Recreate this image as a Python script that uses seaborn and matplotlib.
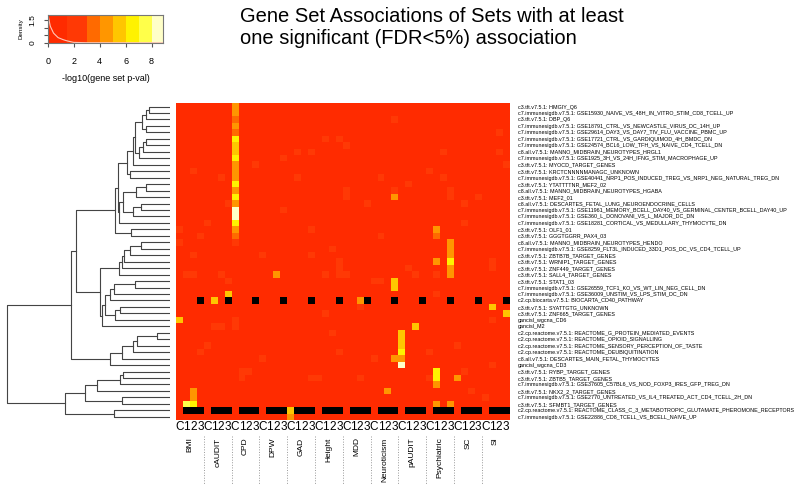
import matplotlib
matplotlib.use("Agg")
import matplotlib.pyplot as plt
import matplotlib.transforms as mtransforms
from matplotlib.colors import ListedColormap, BoundaryNorm
import numpy as np
import pandas as pd
import seaborn as sns

plt.rcParams["font.family"] = ["Liberation Sans", "DejaVu Sans"]

traits = ["BMI", "cAUDIT", "CPD", "DPW", "GAD", "Height", "MDD",
          "Neuroticism", "pAUDIT", "Psychiatric", "SC", "SI"]
subcols = ["C", "1", "2", "3"]

gene_sets = [
    "c3.tft.v7.5.1: HMGIY_Q6",
    "c7.immunesigdb.v7.5.1: GSE15930_NAIVE_VS_48H_IN_VITRO_STIM_CD8_TCELL_UP",
    "c3.tft.v7.5.1: DBP_Q6",
    "c7.immunesigdb.v7.5.1: GSE18791_CTRL_VS_NEWCASTLE_VIRUS_DC_14H_UP",
    "c7.immunesigdb.v7.5.1: GSE29614_DAY3_VS_DAY7_TIV_FLU_VACCINE_PBMC_UP",
    "c7.immunesigdb.v7.5.1: GSE17721_CTRL_VS_GARDIQUIMOD_4H_BMDC_DN",
    "c7.immunesigdb.v7.5.1: GSE24574_BCL6_LOW_TFH_VS_NAIVE_CD4_TCELL_DN",
    "c8.all.v7.5.1: MANNO_MIDBRAIN_NEUROTYPES_HRGL1",
    "c7.immunesigdb.v7.5.1: GSE1925_3H_VS_24H_IFNG_STIM_MACROPHAGE_UP",
    "c3.tft.v7.5.1: MYOCD_TARGET_GENES",
    "c3.tft.v7.5.1: KRCTCNNNNMANAGC_UNKNOWN",
    "c7.immunesigdb.v7.5.1: GSE40441_NRP1_POS_INDUCED_TREG_VS_NRP1_NEG_NATURAL_TREG_DN",
    "c3.tft.v7.5.1: YTATTTTNR_MEF2_02",
    "c8.all.v7.5.1: MANNO_MIDBRAIN_NEUROTYPES_HGABA",
    "c3.tft.v7.5.1: MEF2_01",
    "c8.all.v7.5.1: DESCARTES_FETAL_LUNG_NEUROENDOCRINE_CELLS",
    "c7.immunesigdb.v7.5.1: GSE11961_MEMORY_BCELL_DAY40_VS_GERMINAL_CENTER_BCELL_DAY40_UP",
    "c7.immunesigdb.v7.5.1: GSE360_L_DONOVANI_VS_L_MAJOR_DC_DN",
    "c7.immunesigdb.v7.5.1: GSE18281_CORTICAL_VS_MEDULLARY_THYMOCYTE_DN",
    "c3.tft.v7.5.1: OLF1_01",
    "c3.tft.v7.5.1: GGGTGGRR_PAX4_03",
    "c8.all.v7.5.1: MANNO_MIDBRAIN_NEUROTYPES_HENDO",
    "c7.immunesigdb.v7.5.1: GSE8259_FLT3L_INDUCED_33D1_POS_DC_VS_CD4_TCELL_UP",
    "c3.tft.v7.5.1: ZBTB7B_TARGET_GENES",
    "c3.tft.v7.5.1: WRNIP1_TARGET_GENES",
    "c3.tft.v7.5.1: ZNF449_TARGET_GENES",
    "c3.tft.v7.5.1: SALL4_TARGET_GENES",
    "c3.tft.v7.5.1: STAT1_03",
    "c7.immunesigdb.v7.5.1: GSE26559_TCF1_KO_VS_WT_LIN_NEG_CELL_DN",
    "c7.immunesigdb.v7.5.1: GSE36009_UNSTIM_VS_LPS_STIM_DC_DN",
    "c2.cp.biocarta.v7.5.1: BIOCARTA_CD40_PATHWAY",
    "c3.tft.v7.5.1: SYATTGTG_UNKNOWN",
    "c3.tft.v7.5.1: ZNF665_TARGET_GENES",
    "gancisl_wgcna_CD6",
    "gancisl_M2",
    "c2.cp.reactome.v7.5.1: REACTOME_G_PROTEIN_MEDIATED_EVENTS",
    "c2.cp.reactome.v7.5.1: REACTOME_OPIOID_SIGNALLING",
    "c2.cp.reactome.v7.5.1: REACTOME_SENSORY_PERCEPTION_OF_TASTE",
    "c2.cp.reactome.v7.5.1: REACTOME_DEUBIQUITINATION",
    "c8.all.v7.5.1: DESCARTES_MAIN_FETAL_THYMOCYTES",
    "gancisl_wgcna_CD3",
    "c3.tft.v7.5.1: RYBP_TARGET_GENES",
    "c3.tft.v7.5.1: ZBTB5_TARGET_GENES",
    "c7.immunesigdb.v7.5.1: GSE37605_C57BL6_VS_NOD_FOXP3_IRES_GFP_TREG_DN",
    "c3.tft.v7.5.1: NKX2_2_TARGET_GENES",
    "c7.immunesigdb.v7.5.1: GSE2770_UNTREATED_VS_IL4_TREATED_ACT_CD4_TCELL_2H_DN",
    "c3.tft.v7.5.1: SFMBT1_TARGET_GENES",
    "c2.cp.reactome.v7.5.1: REACTOME_CLASS_C_3_METABOTROPIC_GLUTAMATE_PHEROMONE_RECEPTORS",
    "c7.immunesigdb.v7.5.1: GSE22886_CD8_TCELL_VS_BCELL_NAIVE_UP",
]

# -log10(p) levels: most cells sit in the lowest bin
background_level = 0.5
faint_level = 2.0

# CPD / C column, rows 0..21
cpd_c_values = [4.5, 4.5, 3.5, 4.5, 3.5, 6.5, 5.5, 5.5, 6.5, 4.5, 4.5,
                4.5, 6.5, 4.5, 6.5, 4.5, 8.5, 8.5, 6.5, 4.5, 3.5, 2.0]

# (row, column index, value) for the other strong cells
strong_cells = [
    (14, 31, 4.0), (19, 37, 4.5), (20, 37, 3.5), (24, 37, 4.5),
    (21, 39, 4.5), (22, 39, 4.5), (23, 39, 4.5), (24, 39, 6.5), (25, 39, 4.5), (26, 39, 4.5),
    (26, 14, 4.5), (27, 31, 5.5), (28, 31, 5.5), (29, 7, 5.5), (30, 5, 5.8),
    (30, 26, 4.5), (31, 45, 5.5), (32, 47, 5.5), (33, 0, 5.5), (34, 34, 5.5),
    (35, 32, 5.5), (36, 32, 5.5), (37, 32, 5.5), (38, 32, 6.5), (39, 32, 4.5),
    (40, 32, 8.5), (39, 31, 4.5), (41, 37, 6.5), (42, 37, 6.8), (43, 37, 4.5),
    (42, 40, 4.0), (44, 30, 4.5), (46, 37, 4.5), (46, 39, 4.5),
    (44, 2, 4.5), (45, 2, 4.5), (46, 1, 7.5), (46, 2, 6.5),
    (47, 16, 5.5), (48, 16, 4.5),
]

# slightly lighter cells (second bin)
faint_cells = [
    (5, 21), (5, 23), (7, 17), (7, 19), (6, 24), (8, 15), (9, 11), (10, 2), (11, 6),
    (11, 17), (15, 7), (18, 4), (19, 0), (20, 3), (16, 15), (19, 19), (13, 24),
    (21, 0), (22, 22), (23, 2), (23, 12), (23, 19), (24, 23), (25, 23), (26, 1),
    (26, 2), (26, 6), (26, 24), (2, 31), (4, 46), (7, 38), (7, 46), (9, 47),
    (10, 36), (11, 29), (12, 33), (11, 38), (13, 31), (13, 39), (14, 39), (14, 24),
    (15, 27), (15, 41), (14, 43), (18, 41), (20, 29), (26, 37), (24, 45), (25, 45),
    (25, 33), (26, 21), (26, 23), (27, 7), (38, 3), (37, 4), (33, 8), (34, 8),
    (34, 5), (34, 6), (41, 9), (42, 9), (41, 10), (39, 12), (42, 19), (42, 20),
    (32, 21), (35, 22), (38, 23), (27, 28), (27, 29), (31, 26), (26, 34), (29, 37),
    (37, 40), (41, 41), (44, 42), (45, 44), (40, 45), (33, 45), (38, 36), (39, 28),
    (42, 26), (42, 36),
]

# missing results (drawn black), per row: which sub-columns of every trait
missing_subcols = {30: ["3"], 47: ["1", "2", "3"]}

# color key
key_bounds = [0, 1.5, 3, 4, 5, 6, 7, 8, 8.9]
key_colors = ["#FF2B00", "#FF3905", "#FF6A00", "#FF9600", "#FFC600",
              "#FFF200", "#FFFF4A", "#FFFFC8"]
density_x = [0, 0.05, 0.2, 0.45, 0.8, 1.2, 1.5, 2.0, 3.0, 8.9]
density_y = [1.95, 1.75, 1.1, 0.64, 0.34, 0.2, 0.12, 0.02, 0.0, 0.0]

# row dendrogram: (node, left, right, merge height)
merges = [
    ("a", 0, 1, 1.28), ("b", "a", 2, 1.48), ("c", 3, 4, 1.48), ("d", "b", "c", 1.69),
    ("e", 5, 6, 1.48), ("f", "e", 7, 1.67), ("g", "f", 8, 1.87), ("h", "d", "g", 2.13),
    ("i", "h", 9, 2.28), ("j", 10, 11, 2.44), ("k", "i", "j", 2.64),
    ("l", 12, 13, 1.48), ("m", "l", 14, 2.09), ("n", 15, 16, 1.79), ("o", "n", 17, 2.24),
    ("p", "m", "o", 2.91), ("r", "p", 18, 3.11), ("s", "k", "r", 3.21),
    ("q", 19, 20, 2.38), ("t", "s", "q", 3.35),
    ("u1", 21, 22, 1.79), ("u2", "u1", 23, 2.44), ("u3", "u2", 24, 2.80),
    ("u4", "u3", 25, 2.95), ("u5", "u4", 26, 3.15),
    ("v1", 27, 28, 2.17), ("v2", "v1", 29, 3.46), ("v3", "v2", 30, 3.66),
    ("x1", 31, 32, 3.09), ("x2", "x1", 33, 3.35), ("e21", "v3", "x2", 3.96),
    ("e2", "e21", 34, 4.17), ("E", "u5", "e2", 4.31), ("B", "t", "E", 5.79),
    ("c1", 35, 36, 0.81), ("c2", "c1", 37, 2.03), ("c3", "c2", 38, 2.24),
    ("c4", "c3", 39, 2.95), ("C", "c4", 40, 3.66), ("A", "B", "C", 6.04),
    ("g1", 41, 42, 2.85), ("g2", "g1", 43, 3.05), ("g3", 45, 46, 2.95),
    ("g4", "g2", 44, 4.47), ("g5", "g4", "g3", 5.18), ("g6", 47, 48, 3.46),
    ("G", "g5", "g6", 6.44), ("root", "A", "G", 10.0),
]

# build the matrix
columns = [f"{t} {s}" for t in traits for s in subcols]
values = np.full((len(gene_sets), len(columns)), background_level)
for r, c in faint_cells:
    values[r, c] = faint_level
for r, v in enumerate(cpd_c_values):
    values[r, traits.index("CPD") * 4] = v
for r, c, v in strong_cells:
    values[r, c] = v
for r, subs in missing_subcols.items():
    for k in range(len(traits)):
        for s in subs:
            values[r, k * 4 + subcols.index(s)] = np.nan
df = pd.DataFrame(values, index=gene_sets, columns=columns)

cmap = ListedColormap(key_colors)
norm = BoundaryNorm(key_bounds, cmap.N)

fig = plt.figure(figsize=(8, 4.84), dpi=100)

# heatmap
ax = fig.add_axes([0.22, 0.1322, 0.4169, 0.6543])
ax.set_facecolor("black")
sns.heatmap(df, ax=ax, cmap=cmap, norm=norm, cbar=False,
            xticklabels=subcols * len(traits), yticklabels=gene_sets)
ax.set_xlabel("")
ax.set_ylabel("")
ax.yaxis.tick_right()
ax.tick_params(axis="y", length=0, pad=6, labelsize=3.9, labelrotation=0)
ax.tick_params(axis="x", length=0, pad=1, labelsize=8.5, labelrotation=0)
for lab in ax.get_yticklabels():
    lab.set_ha("left")

trans = mtransforms.blended_transform_factory(ax.transData, ax.transAxes)
for k, trait in enumerate(traits):
    ax.text(4 * k + 2, -0.055, trait, transform=trans, rotation=90,
            ha="center", va="top", fontsize=6)
for k in range(1, len(traits)):
    ax.plot([4 * k, 4 * k], [-0.05, -0.21], transform=trans, ls=":",
            color="#999999", lw=0.7, clip_on=False)

# row dendrogram
axd = fig.add_axes([0.0075, 0.1322, 0.205, 0.6543])
pos = {i: (0.0, i + 0.5) for i in range(len(gene_sets))}
for name, left, right, h in merges:
    hl, yl = pos[left]
    hr, yr = pos[right]
    axd.plot([hl, h, h, hr], [yl, yl, yr, yr], color="#444444", lw=0.8)
    pos[name] = (h, (yl + yr) / 2)
axd.set_xlim(10.05, 0)
axd.set_ylim(len(gene_sets), 0)
axd.axis("off")

# color key with density
axk = fig.add_axes([0.0596, 0.9118, 0.1445, 0.0572])
axk.pcolormesh(key_bounds, [0, 1.85],
               np.array([[(a + b) / 2 for a, b in zip(key_bounds[:-1], key_bounds[1:])]]),
               cmap=cmap, norm=norm)
sns.lineplot(x=density_x, y=density_y, ax=axk, color="#FFC8B8", lw=0.8)
axk.set_xlim(0, 8.9)
axk.set_ylim(0, 1.85)
axk.set_xticks([0, 2, 4, 6, 8])
axk.set_yticks([0, 0.5, 1.0, 1.5])
axk.set_yticklabels(["0", "", "", "1.5"], rotation=90, va="center")
axk.tick_params(axis="x", length=3, pad=7, labelsize=6.5, color="#555555")
axk.tick_params(axis="y", length=3, pad=5, labelsize=6, color="#555555")
for sp in axk.spines.values():
    sp.set_color("#777777")
    sp.set_linewidth(0.8)
axk.text(-0.234, 0.5, "Density", transform=axk.transAxes, rotation=90,
         ha="center", va="center", fontsize=4.5)
axk.text(0.5, -1.285, "-log10(gene set p-val)", transform=axk.transAxes,
         ha="center", va="center", fontsize=6.5)

fig.text(0.30, 0.985, "Gene Set Associations of Sets with at least\n"
         "one significant (FDR<5%) association",
         ha="left", va="top", fontsize=14.5, linespacing=1.15)

fig.savefig("out.png", dpi=100)
